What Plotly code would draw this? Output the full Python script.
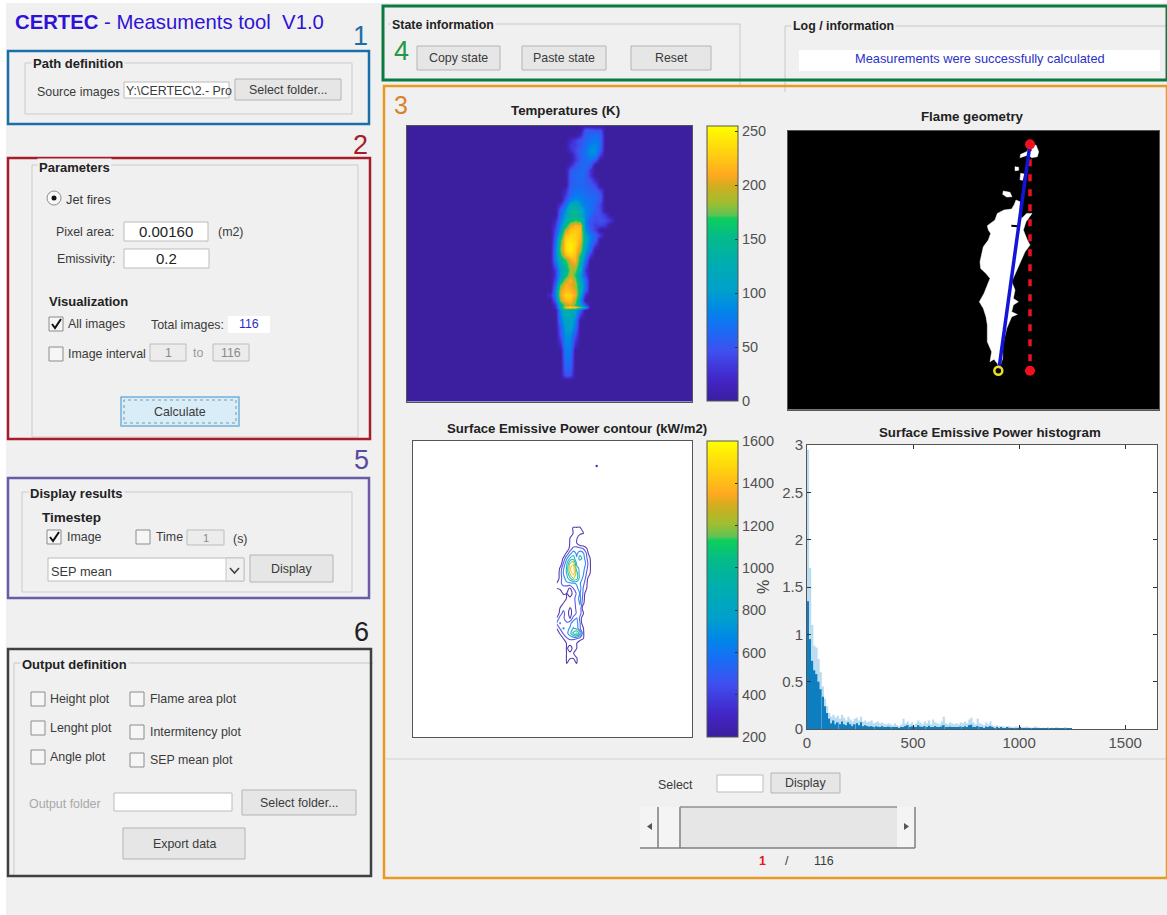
import plotly.graph_objects as go

W, H = 1167, 915

# ---------- data ----------
temp_x = [450, 465, 480, 495, 510, 525, 540, 555, 570, 585, 600, 615, 630, 645]
temp_y = [75, 90, 105, 120, 135, 150, 165, 180, 195, 210, 225, 240, 255, 270, 285, 300, 315, 330, 345, 360,
          375, 390, 405, 420, 435, 450, 465, 480, 495, 510, 525, 540, 555, 570, 585, 600, 615, 620, 630, 645,
          660, 675, 690, 705, 720, 735, 750, 765, 780, 795, 810, 825, 840]
temp_z = [
    [0, 0, 0, 0, 0, 0, 0, 0, 0, 0, 0, 0, 0, 0],
    [0, 0, 0, 0, 0, 0, 0, 55, 55, 45, 45, 0, 0, 0],
    [0, 0, 0, 0, 0, 0, 20, 60, 60, 70, 60, 0, 0, 0],
    [0, 0, 0, 0, 20, 35, 50, 60, 70, 75, 62, 0, 0, 0],
    [0, 0, 0, 0, 30, 35, 50, 65, 82, 88, 62, 0, 0, 0],
    [0, 0, 0, 0, 25, 40, 58, 68, 92, 92, 55, 0, 0, 0],
    [0, 0, 0, 0, 0, 35, 55, 68, 88, 85, 30, 0, 0, 0],
    [0, 0, 0, 0, 0, 30, 55, 68, 68, 50, 0, 0, 0, 0],
    [0, 0, 0, 0, 20, 50, 62, 62, 55, 0, 0, 0, 0, 0],
    [0, 0, 0, 0, 50, 60, 62, 62, 30, 0, 0, 0, 0, 0],
    [0, 0, 0, 0, 55, 62, 68, 60, 30, 0, 0, 0, 0, 0],
    [0, 0, 0, 0, 55, 62, 62, 58, 45, 20, 0, 0, 0, 0],
    [0, 0, 0, 0, 55, 62, 60, 58, 55, 40, 0, 0, 0, 0],
    [0, 0, 0, 20, 60, 68, 72, 62, 58, 55, 35, 0, 0, 0],
    [0, 0, 0, 30, 65, 75, 75, 68, 62, 62, 50, 0, 0, 0],
    [0, 0, 0, 45, 80, 95, 85, 72, 68, 62, 50, 0, 0, 0],
    [0, 0, 30, 70, 120, 130, 95, 78, 68, 58, 35, 0, 0, 0],
    [0, 0, 55, 90, 135, 145, 115, 85, 72, 55, 40, 0, 0, 0],
    [0, 0, 62, 105, 140, 150, 125, 88, 62, 45, 45, 30, 0, 0],
    [0, 20, 72, 115, 150, 165, 150, 85, 50, 42, 48, 42, 30, 0],
    [0, 30, 85, 140, 200, 215, 210, 85, 50, 35, 38, 30, 0, 0],
    [0, 40, 100, 190, 222, 228, 220, 95, 55, 35, 0, 0, 0, 0],
    [0, 50, 130, 222, 232, 232, 215, 110, 75, 55, 30, 0, 0, 0],
    [0, 60, 160, 230, 240, 232, 212, 120, 80, 55, 0, 0, 0, 0],
    [0, 70, 170, 235, 248, 232, 200, 115, 70, 30, 0, 0, 0, 0],
    [0, 75, 175, 232, 248, 228, 190, 100, 60, 0, 0, 0, 0, 0],
    [0, 80, 160, 215, 235, 222, 160, 90, 30, 0, 0, 0, 0, 0],
    [0, 75, 135, 165, 205, 218, 145, 70, 0, 0, 0, 0, 0, 0],
    [0, 55, 120, 150, 195, 200, 135, 50, 0, 0, 0, 0, 0, 0],
    [0, 30, 110, 140, 185, 180, 120, 30, 0, 0, 0, 0, 0, 0],
    [0, 30, 105, 150, 195, 165, 105, 40, 0, 0, 0, 0, 0, 0],
    [0, 40, 130, 190, 215, 180, 120, 65, 0, 0, 0, 0, 0, 0],
    [0, 60, 175, 215, 205, 190, 130, 70, 0, 0, 0, 0, 0, 0],
    [0, 75, 200, 220, 215, 200, 130, 60, 0, 0, 0, 0, 0, 0],
    [20, 80, 205, 232, 232, 210, 120, 20, 0, 0, 0, 0, 0, 0],
    [0, 60, 190, 222, 225, 185, 90, 0, 0, 0, 0, 0, 0, 0],
    [0, 25, 130, 185, 200, 165, 110, 50, 0, 0, 0, 0, 0, 0],
    [0, 20, 130, 215, 232, 220, 180, 100, 0, 0, 0, 0, 0, 0],
    [0, 0, 90, 140, 130, 105, 55, 0, 0, 0, 0, 0, 0, 0],
    [0, 0, 85, 120, 120, 100, 30, 0, 0, 0, 0, 0, 0, 0],
    [0, 0, 75, 110, 115, 85, 0, 0, 0, 0, 0, 0, 0, 0],
    [0, 0, 60, 105, 115, 75, 0, 0, 0, 0, 0, 0, 0, 0],
    [0, 0, 50, 100, 105, 60, 0, 0, 0, 0, 0, 0, 0, 0],
    [0, 0, 45, 95, 90, 45, 0, 0, 0, 0, 0, 0, 0, 0],
    [0, 0, 30, 90, 85, 30, 0, 0, 0, 0, 0, 0, 0, 0],
    [0, 0, 20, 85, 85, 20, 0, 0, 0, 0, 0, 0, 0, 0],
    [0, 0, 0, 80, 75, 0, 0, 0, 0, 0, 0, 0, 0, 0],
    [0, 0, 0, 75, 70, 0, 0, 0, 0, 0, 0, 0, 0, 0],
    [0, 0, 0, 70, 68, 0, 0, 0, 0, 0, 0, 0, 0, 0],
    [0, 0, 0, 65, 60, 0, 0, 0, 0, 0, 0, 0, 0, 0],
    [0, 0, 0, 60, 55, 0, 0, 0, 0, 0, 0, 0, 0, 0],
    [0, 0, 0, 50, 45, 0, 0, 0, 0, 0, 0, 0, 0, 0],
    [0, 0, 0, 0, 0, 0, 0, 0, 0, 0, 0, 0, 0, 0],
]

flame_x = [708, 703, 695, 672, 652, 645, 622, 625, 632, 625, 610, 605, 600, 602, 618, 630, 620, 612, 598, 610,
           618, 622, 622, 635, 630, 642, 652, 658, 668, 668, 680, 695, 712, 695, 700, 715, 700, 705, 695, 710,
           722, 735, 750, 742, 730, 738, 756, 740, 725, 718, 720, 708, None,
           740, 750, 768, 776, 772, 755, 745, 720, 722, 740, None,
           705, 716, 716, 705, 705, None,
           722, 733, 728, 720, 722, None,
           670, 690, 696, 680, 668, 670]
flame_y = [285, 298, 312, 315, 325, 345, 362, 375, 385, 405, 425, 445, 470, 490, 505, 520, 545, 565, 590, 610,
           635, 660, 710, 740, 770, 762, 775, 790, 760, 720, 670, 635, 628, 620, 600, 590, 580, 555, 530, 495,
           470, 440, 420, 405, 375, 350, 325, 325, 340, 320, 290, 285, None,
           140, 125, 120, 140, 155, 158, 150, 158, 148, 140, None,
           185, 187, 196, 197, 185, None,
           205, 207, 226, 224, 205, None,
           258, 262, 275, 276, 268, 258]
notch_x = [694, 716]
notch_y = [362, 364]
axis_line_x = [657, 750]
axis_line_y = [790, 118]
height_line_x = [750, 750]
height_line_y = [118, 797]
top_point_x = [750]
top_point_y = [118]
foot_point_x = [750]
foot_point_y = [797]
base_point_x = [655]
base_point_y = [797]

sep_x = [170, 180, 190, 200, 210, 220, 230, 240, 250, 260, 270, 280]
sep_y = [220, 235, 250, 265, 280, 295, 310, 325, 340, 355, 370, 385, 400, 415, 430, 445, 460, 475, 490, 505,
         520, 535, 550, 565, 580, 595, 610, 625, 640, 655]
sep_z = [
    [0, 0, 0, 0, 0, 0, 0, 0, 0, 0, 0, 0],
    [0, 0, 0, 0, 0, 250, 250, 260, 0, 0, 0, 0],
    [0, 0, 0, 0, 0, 220, 250, 250, 210, 0, 0, 0],
    [0, 0, 0, 0, 210, 250, 230, 0, 0, 0, 0, 0],
    [0, 0, 0, 0, 220, 250, 210, 0, 0, 0, 0, 0],
    [0, 0, 0, 0, 280, 450, 480, 450, 380, 210, 0, 0],
    [0, 0, 0, 260, 520, 720, 560, 720, 620, 380, 0, 0],
    [0, 0, 230, 560, 820, 900, 620, 900, 700, 420, 210, 0],
    [0, 0, 400, 760, 1200, 1350, 760, 620, 800, 500, 230, 0],
    [0, 230, 560, 820, 1380, 1550, 860, 760, 680, 440, 230, 0],
    [0, 280, 600, 820, 1250, 1500, 1100, 680, 620, 380, 210, 0],
    [0, 280, 520, 700, 950, 1200, 1100, 700, 560, 300, 0, 0],
    [210, 340, 480, 560, 560, 580, 620, 620, 460, 230, 0, 0],
    [210, 260, 320, 240, 180, 400, 560, 680, 380, 210, 0, 0],
    [0, 0, 250, 200, 100, 260, 430, 620, 360, 0, 0, 0],
    [0, 0, 0, 215, 240, 300, 520, 660, 300, 0, 0, 0],
    [0, 0, 210, 260, 280, 300, 480, 620, 240, 0, 0, 0],
    [0, 210, 340, 280, 190, 230, 480, 560, 0, 0, 0, 0],
    [0, 280, 480, 260, 150, 260, 430, 480, 210, 0, 0, 0],
    [230, 480, 420, 340, 200, 480, 620, 340, 0, 0, 0, 0],
    [420, 620, 500, 420, 540, 720, 680, 420, 0, 0, 0, 0],
    [210, 420, 620, 540, 620, 820, 720, 420, 210, 0, 0, 0],
    [0, 230, 420, 540, 720, 1050, 1250, 820, 230, 0, 0, 0],
    [0, 0, 210, 380, 460, 460, 420, 340, 210, 0, 0, 0],
    [0, 0, 0, 220, 230, 230, 210, 0, 0, 0, 0, 0],
    [0, 0, 0, 220, 150, 230, 210, 0, 0, 0, 0, 0],
    [0, 0, 0, 210, 220, 220, 0, 0, 0, 0, 0, 0],
    [0, 0, 0, 215, 220, 210, 225, 0, 0, 0, 0, 0],
    [0, 0, 0, 210, 0, 0, 210, 0, 0, 0, 0, 0],
    [0, 0, 0, 0, 0, 0, 0, 0, 0, 0, 0, 0],
]
sep_dot_x = [290]
sep_dot_y = [48]

hist_x = [5, 15, 25, 35, 45, 55, 65, 75, 85, 95, 105, 115, 125, 135, 145, 155, 165, 175, 185, 195,
          205, 215, 225, 235, 245, 255, 265, 275, 285, 295, 305, 315, 325, 335, 345, 355, 365, 375, 385, 395,
          405, 415, 425, 435, 445, 455, 465, 475, 485, 495, 505, 515, 525, 535, 545, 555, 565, 575, 585, 595,
          605, 615, 625, 635, 645, 655, 665, 675, 685, 695, 705, 715, 725, 735, 745, 755, 765, 775, 785, 795,
          805, 815, 825, 835, 845, 855, 865, 875, 885, 895, 905, 915, 925, 935, 945, 955, 965, 975, 985, 995,
          1005, 1015, 1025, 1035, 1045, 1055, 1065, 1075, 1085, 1095, 1105, 1115, 1125, 1135, 1145, 1155, 1165,
          1175, 1185, 1195, 1205, 1215, 1225, 1235, 1245]
hist_solid = [1.35, 0.95, 0.72, 0.62, 0.58, 0.5, 0.42, 0.34, 0.24, 0.17, 0.11, 0.06, 0.09, 0.05, 0.07, 0.05,
              0.08, 0.05, 0.04, 0.07, 0.05, 0.03, 0.05, 0.06, 0.04, 0.07, 0.03, 0.04, 0.03, 0.025, 0.03, 0.02,
              0.03, 0.025, 0.02, 0.03, 0.02, 0.015, 0.025, 0.02, 0.015, 0.02, 0.015, 0.01, 0.02, 0.015, 0.03,
              0.04, 0.02, 0.03, 0.015, 0.02, 0.04, 0.025, 0.02, 0.03, 0.02, 0.035, 0.02, 0.015, 0.03, 0.02,
              0.015, 0.025, 0.04, 0.02, 0.015, 0.025, 0.02, 0.015, 0.02, 0.015, 0.025, 0.02, 0.03, 0.02, 0.04,
              0.045, 0.02, 0.015, 0.03, 0.02, 0.015, 0.01, 0.025, 0.015, 0.03, 0.015, 0.01, 0.015, 0.01, 0.012,
              0.01, 0.008, 0.012, 0.01, 0.008, 0.006, 0.01, 0.008, 0.012, 0.006, 0.005, 0.008, 0.006, 0.005,
              0.004, 0.006, 0.005, 0.004, 0.003, 0.004, 0.003, 0.005, 0.003, 0.004, 0.003, 0.005, 0.004, 0.003,
              0.003, 0.005, 0.004, 0.003, 0.002]
hist_haze = [2.95, 1.7, 1.1, 0.88, 0.86, 0.74, 0.6, 0.45, 0.32, 0.24, 0.17, 0.13, 0.15, 0.12, 0.14, 0.11,
             0.15, 0.12, 0.09, 0.13, 0.1, 0.08, 0.11, 0.12, 0.09, 0.13, 0.08, 0.09, 0.07, 0.08, 0.09, 0.06,
             0.07, 0.08, 0.06, 0.07, 0.05, 0.05, 0.06, 0.05, 0.04, 0.06, 0.04, 0.03, 0.05, 0.11, 0.06,
             0.08, 0.05, 0.07, 0.04, 0.06, 0.09, 0.07, 0.05, 0.08, 0.06, 0.09, 0.05, 0.1, 0.07, 0.06,
             0.05, 0.08, 0.13, 0.06, 0.05, 0.07, 0.06, 0.05, 0.06, 0.05, 0.07, 0.06, 0.08, 0.06, 0.1,
             0.12, 0.07, 0.05, 0.11, 0.06, 0.05, 0.04, 0.07, 0.05, 0.08, 0.04, 0.03, 0.04, 0.03, 0.03,
             0.03, 0.02, 0.03, 0.03, 0.02, 0.02, 0.03, 0.02, 0.03, 0.02, 0.02, 0.03, 0.02, 0.015,
             0.015, 0.03, 0.02, 0.015, 0.01, 0.015, 0.01, 0.02, 0.01, 0.015, 0.01, 0.02, 0.015, 0.01,
             0.01, 0.02, 0.015, 0.01, 0.01]

temp_ticks = [0, 50, 100, 150, 200, 250]
sep_ticks = [200, 400, 600, 800, 1000, 1200, 1400, 1600]
hist_xticks = [0, 500, 1000, 1500]
hist_yticks = [0, 0.5, 1, 1.5, 2, 2.5, 3]
hist_ylabels = ["0", "0.5", "1", "1.5", "2", "2.5", "3"]

PALETTE = [[0.0, "#3b1f9e"], [0.08, "#4226c8"], [0.18, "#3f4ff0"], [0.27, "#1570f5"], [0.33, "#0086e8"],
           [0.40, "#00a0cc"], [0.50, "#00adb0"], [0.60, "#05bb88"], [0.665, "#0ecf5a"], [0.675, "#5cc258"],
           [0.72, "#a0be30"], [0.78, "#d0ae20"], [0.82, "#ffa820"], [0.90, "#ffd010"], [1.0, "#ffff00"]]

FONT = "Liberation Sans"
BG = "#f0f0f0"
TXT = "#3a3a3a"
shapes, notes = [], []


def px(x):
    return x / W


def py(y):
    return 1 - y / H


def rect(x0, y0, x1, y1, fill=None, line=None, lw=1, dash=None):
    shapes.append(dict(type="rect", xref="paper", yref="paper", layer="below",
                       x0=px(x0), x1=px(x1), y0=py(y1), y1=py(y0),
                       fillcolor=fill or "rgba(0,0,0,0)",
                       line=dict(color=line or "rgba(0,0,0,0)", width=lw if line else 0, dash=dash or "solid")))


def seg(x0, y0, x1, y1, color="#c8c8c8", lw=1):
    shapes.append(dict(type="line", xref="paper", yref="paper", layer="below",
                       x0=px(x0), x1=px(x1), y0=py(y0), y1=py(y1), line=dict(color=color, width=lw)))


def poly(points, fill=None, line=None, lw=1):
    d = "M " + " L ".join(f"{px(a):.5f} {py(b):.5f}" for a, b in points)
    if fill:
        d += " Z"
    shapes.append(dict(type="path", xref="paper", yref="paper", layer="below", path=d,
                       fillcolor=fill or "rgba(0,0,0,0)",
                       line=dict(color=line or "rgba(0,0,0,0)", width=lw if line else 0)))


def text(x, y, s, size=12.4, color=TXT, anchor="left", bg=None, angle=0):
    if anchor == "left":
        x -= 2
    notes.append(dict(xref="paper", yref="paper", x=px(x), y=py(y), text=s, showarrow=False,
                      xanchor=anchor, yanchor="middle", textangle=angle, borderpad=1,
                      bgcolor=bg or "rgba(0,0,0,0)",
                      font=dict(family=FONT, size=size, color=color)))


def group(x0, y0, x1, y1, title, tx, size=13):
    rect(x0, y0, x1, y1, line="#cbcbcb", lw=1)
    text(tx, y0 + 1, f"<b>{title}</b>", size=size, color="#222222", bg=BG)


def button(x0, y0, x1, y1, label, size=12.4):
    rect(x0, y0, x1, y1, fill="#e6e6e6", line="#b4b4b4", lw=1)
    text((x0 + x1) / 2, (y0 + y1) / 2, label, size=size, anchor="center")


def field(x0, y0, x1, y1, label="", size=12.4, color=TXT, fill="#ffffff", line="#bcbcbc"):
    rect(x0, y0, x1, y1, fill=fill, line=line, lw=1)
    if label:
        text((x0 + x1) / 2, (y0 + y1) / 2, label, size=size, color=color, anchor="center")


def check(x0, y0, label, checked=False, gap=5, s=14):
    rect(x0, y0, x0 + s, y0 + s, fill="#f6f6f6", line="#8c8c8c", lw=1)
    if checked:
        poly([(x0 + 3, y0 + 7), (x0 + 6, y0 + 11), (x0 + 12, y0 + 2)], line="#111111", lw=2)
    if label:
        text(x0 + s + gap, y0 + 7, label)


# ---------- page ----------
rect(0, 0, 6, H, fill="#ffffff")
rect(0, 0, W, 3, fill="#ffffff")

text(15, 22, "<b>CERTEC</b> - Measuments tool  V1.0", size=20.3, color="#2f12d6")

# image backgrounds
rect(407, 126, 692, 401.5, fill="#3b1f9e")
rect(788, 131, 1159, 409.5, fill="#000000")
rect(413, 441, 692, 737, fill="#ffffff")
rect(807, 445, 1157, 729, fill="#ffffff")

# 1 path definition
group(25, 63, 352, 114, "Path definition", 33)
text(37, 92, "Source images")
field(124, 82, 229, 98)
text(126, 91, "Y:\\CERTEC\\2.- Pro", size=12.4)
button(235, 79, 341, 100, "Select folder...")

# 2 parameters
rect(32, 165, 358, 437, line="#cbcbcb")
text(39, 167, "<b>Parameters</b>", size=13, color="#222222", bg=BG)
shapes.append(dict(type="circle", xref="paper", yref="paper", layer="below", x0=px(47), x1=px(61), y0=py(205), y1=py(191),
                   fillcolor="#f8f8f8", line=dict(color="#8c8c8c", width=1)))
shapes.append(dict(type="circle", xref="paper", yref="paper", layer="below", x0=px(51.5), x1=px(56.5), y0=py(200.5), y1=py(195.5),
                   fillcolor="#111111", line=dict(width=0)))
text(66, 199, "Jet fires", size=12.8)
text(56, 232, "Pixel area:")
field(124, 222, 208, 241, "0.00160", size=15, color="#222222")
text(218, 232, "(m2)")
text(57, 259, "Emissivity:")
field(124, 249, 209, 268, "0.2", size=15, color="#222222")
text(49, 301, "<b>Visualization</b>", size=13, color="#222222")
check(49, 317, "All images", True)
text(151, 325, "Total images:")
rect(228, 316, 270, 333, fill="#ffffff")
text(249, 324, "116", color="#2b2bd0", anchor="center")
check(49, 347, "Image interval")
field(150, 344, 186, 361, "1", color="#8a8a8a", fill="#ececec")
text(198, 353, "to", color="#9a9a9a", anchor="center")
field(213, 344, 249, 361, "116", color="#8a8a8a", fill="#ececec")
rect(121, 397, 239, 426, fill="#d9edf9", line="#6fb1dc", lw=1.5)
rect(124, 400, 236, 423, line="#555555", lw=0.6, dash="dot")
text(180, 412, "Calculate", anchor="center")

# 5 display results
group(22, 492, 352, 592, "Display results", 30)
text(42, 517, "<b>Timestep</b>", size=13.5, color="#222222")
check(47, 530, "Image", True, gap=6)
check(136, 530, "Time", gap=6)
field(187, 530, 224, 545, "1", size=11, color="#8a8a8a", fill="#ececec")
text(233, 539, "(s)")
field(48, 558, 244, 581, fill="#ffffff")
text(51, 571, "SEP mean", size=12.8)
rect(226, 558, 244, 581, fill="#f0f0f0", line="#c4c4c4")
poly([(230, 568), (234.5, 573), (239, 568)], line="#444444", lw=1.6)
button(250, 555, 333, 582, "Display")

# 6 output definition
seg(14, 663, 373, 663)
seg(14, 663, 14, 876)
text(22, 664, "<b>Output definition</b>", size=13, color="#222222", bg=BG)
check(31, 692, "Height plot")
check(130, 692, "Flame area plot", gap=6)
check(31, 721, "Lenght plot")
check(130, 725, "Intermitency plot", gap=6)
check(31, 750, "Angle plot")
check(130, 753, "SEP mean plot", gap=6)
text(29, 804, "Output folder", color="#a8a8a8")
field(114, 793, 232, 811)
button(242, 790, 356, 815, "Select folder...")
button(123, 828, 245, 859, "Export data")

# 4 state / log
seg(388, 24, 740, 24)
seg(740, 24, 740, 86)
seg(785, 26, 1167, 26)
seg(785, 26, 785, 92)
text(392, 25, "<b>State information</b>", size=12.4, color="#222222", bg=BG)
text(793, 26, "<b>Log / information</b>", size=12.4, color="#222222", bg=BG)
button(417, 46, 500, 70, "Copy state")
button(522, 46, 606, 70, "Paste state")
button(631, 46, 711, 70, "Reset")
rect(799, 50, 1160, 71, fill="#ffffff")
text(980, 58, "Measurements were successfully calculated", size=12.8, color="#2a30c8", anchor="center")

# bottom controls
seg(386, 759, 1166, 759, color="#d2d2d2")
text(675, 785, "Select", anchor="center")
field(717, 775, 763, 792)
button(771, 773, 840, 793, "Display")
rect(640, 807, 915, 848, fill="#e6e6e6")
rect(640, 807, 657, 848, fill="#f4f4f4")
rect(659, 807, 680, 848, fill="#f4f4f4")
rect(897, 807, 915, 848, fill="#f4f4f4")
seg(680, 807, 680, 848, color="#808080", lw=1.5)
seg(680, 807, 897, 807, color="#909090", lw=1.5)
seg(640, 848, 915, 848, color="#808080", lw=1.5)
seg(658, 807, 658, 848, color="#808080", lw=1.5)
seg(915, 807, 915, 848, color="#808080", lw=1.5)
poly([(652, 823), (647, 826.5), (652, 830)], fill="#555555")
poly([(904, 823), (909, 826.5), (904, 830)], fill="#555555")
text(763, 861, "<b>1</b>", color="#e8141c", anchor="center")
text(787, 861, "/", anchor="center")
text(824, 861, "116", anchor="center")

# axes titles
text(565, 110, "<b>Temperatures (K)</b>", size=13.3, color="#222222", anchor="center")
text(972, 117, "<b>Flame geometry</b>", size=13.3, color="#222222", anchor="center")
text(577, 428, "<b>Surface Emissive Power contour (kW/m2)</b>", size=13.2, color="#222222", anchor="center")
text(990, 432, "<b>Surface Emissive Power histogram</b>", size=13.3, color="#222222", anchor="center")
text(763, 587, "%", size=16, color="#444444", anchor="center", angle=-90)

# coloured frames and their numbers
rect(8, 51, 369, 124, line="#1b6fa8", lw=2.5)
rect(8, 158, 370, 439, line="#a51d28", lw=2.5)
rect(8, 478, 369, 598, line="#6a5aa8", lw=2.5)
rect(8, 649, 371, 876, line="#404040", lw=2.5)
rect(383, 6, 1167, 80, line="#0c7a40", lw=3)
rect(384, 86, 1167, 878, line="#e89a22", lw=2.5)
text(360, 36, "1", size=27, color="#1b6fa8", anchor="center")
text(360, 145, "2", size=27, color="#a51d28", anchor="center")
text(401, 105, "3", size=25, color="#d9822b", anchor="center")
text(401, 51, "4", size=27, color="#1f9a45", anchor="center")
text(361, 460, "5", size=27, color="#5a4aa0", anchor="center")
text(362, 632, "6", size=27, color="#222222", anchor="center")

# ---------- traces ----------
fig = go.Figure()


def bar_opts(x, top, bottom, ticks):
    return dict(x=px(x), xanchor="left", xref="paper", y=py(bottom), yanchor="bottom", yref="paper",
                lenmode="pixels", len=bottom - top, thicknessmode="pixels", thickness=31,
                xpad=0, ypad=0, outlinecolor="#555555", outlinewidth=1,
                ticks="inside", ticklen=3, tickcolor="#333333", tickvals=ticks, ticktext=[str(t) for t in ticks],
                tickfont=dict(family=FONT, size=14.5, color="#505050"), borderwidth=0)


fig.add_trace(go.Heatmap(x=temp_x, y=temp_y, z=temp_z, zmin=0, zmax=255, colorscale=PALETTE, zsmooth="best",
                         xaxis="x", yaxis="y", colorbar=bar_opts(707, 126, 401, temp_ticks), hoverinfo="skip"))

fig.add_trace(go.Scatter(x=flame_x, y=flame_y, mode="lines", fill="toself", fillcolor="#ffffff",
                         line=dict(color="#ffffff", width=0.5), xaxis="x2", yaxis="y2", hoverinfo="skip"))
fig.add_trace(go.Scatter(x=notch_x, y=notch_y, mode="lines", line=dict(color="#000000", width=2), xaxis="x2", yaxis="y2"))
fig.add_trace(go.Scatter(x=height_line_x, y=height_line_y, mode="lines", line=dict(color="#ee1122", width=3.5, dash="7px,8px"),
                         xaxis="x2", yaxis="y2"))
fig.add_trace(go.Scatter(x=axis_line_x, y=axis_line_y, mode="lines", line=dict(color="#1414d8", width=3.5), xaxis="x2", yaxis="y2"))
fig.add_trace(go.Scatter(x=top_point_x + foot_point_x, y=top_point_y + foot_point_y, mode="markers",
                         marker=dict(color="#f01020", size=10), xaxis="x2", yaxis="y2"))
fig.add_trace(go.Scatter(x=base_point_x, y=base_point_y, mode="markers",
                         marker=dict(color="rgba(0,0,0,0)", size=8, line=dict(color="#e8e020", width=2.5)), xaxis="x2", yaxis="y2"))

fig.add_trace(go.Contour(x=sep_x, y=sep_y, z=sep_z, zmin=200, zmax=1600, colorscale=PALETTE, showscale=False,
                         contours=dict(coloring="lines", start=200, end=1600, size=200, showlabels=False),
                         line=dict(width=1.1, smoothing=0.9), opacity=0.85, xaxis="x3", yaxis="y3", hoverinfo="skip"))
fig.add_trace(go.Scatter(x=sep_dot_x, y=sep_dot_y, mode="markers", marker=dict(color="#4040c0", size=2.5), xaxis="x3", yaxis="y3"))
fig.add_trace(go.Scatter(x=[None], y=[None], mode="markers", xaxis="x3", yaxis="y3",
                         marker=dict(color=[200], cmin=200, cmax=1600, colorscale=PALETTE, showscale=True,
                                     colorbar=bar_opts(707, 441, 737, sep_ticks))))

fig.add_trace(go.Bar(x=hist_x, y=hist_haze, width=10, marker=dict(color="rgba(30,140,205,0.3)", line=dict(width=0)),
                     xaxis="x4", yaxis="y4", hoverinfo="skip"))
fig.add_trace(go.Bar(x=hist_x, y=hist_solid, width=8, marker=dict(color="#0d7fc0", line=dict(width=0)),
                     xaxis="x4", yaxis="y4", hoverinfo="skip"))

frame = dict(showline=True, linecolor="#555555", linewidth=1, mirror=True, showgrid=False, zeroline=False,
             showticklabels=False, ticks="")
tickf = dict(family=FONT, size=15, color="#505050")
hist_ax = dict(ticks="inside", ticklen=4, tickwidth=1, tickcolor="#333333", showline=True, linecolor="#555555",
               mirror="allticks", showgrid=False, zeroline=False, tickfont=tickf)
fig.update_layout(
    width=W, height=H, margin=dict(l=0, r=0, t=0, b=0, autoexpand=False), paper_bgcolor=BG, plot_bgcolor="rgba(0,0,0,0)",
    showlegend=False, barmode="overlay", shapes=shapes, annotations=notes,
    xaxis=dict(domain=[px(407), px(692)], range=[22, 877], anchor="y", **frame),
    yaxis=dict(domain=[py(401.5), py(126)], range=[905, 78], anchor="x", **frame),
    xaxis2=dict(domain=[px(788), px(1159)], range=[24, 1137], anchor="y2", **frame),
    yaxis2=dict(domain=[py(409.5), py(131)], range=[913, 78], anchor="x2", **frame),
    xaxis3=dict(domain=[px(413), px(692)], range=[-261, 576], anchor="y3", **frame),
    yaxis3=dict(domain=[py(737), py(441)], range=[861, -27], anchor="x3", **frame),
    xaxis4=dict(domain=[px(807), px(1157)], range=[0, 1650], anchor="y4", tickvals=hist_xticks, tickformat="d", **hist_ax),
    yaxis4=dict(domain=[py(729), py(445)], range=[0, 3], anchor="x4", tickvals=hist_yticks, ticktext=hist_ylabels, **hist_ax),
)

fig.write_html("out.html", config=dict(displayModeBar=False),
               post_script="document.body.style.margin='0';document.body.style.overflow='hidden';")
